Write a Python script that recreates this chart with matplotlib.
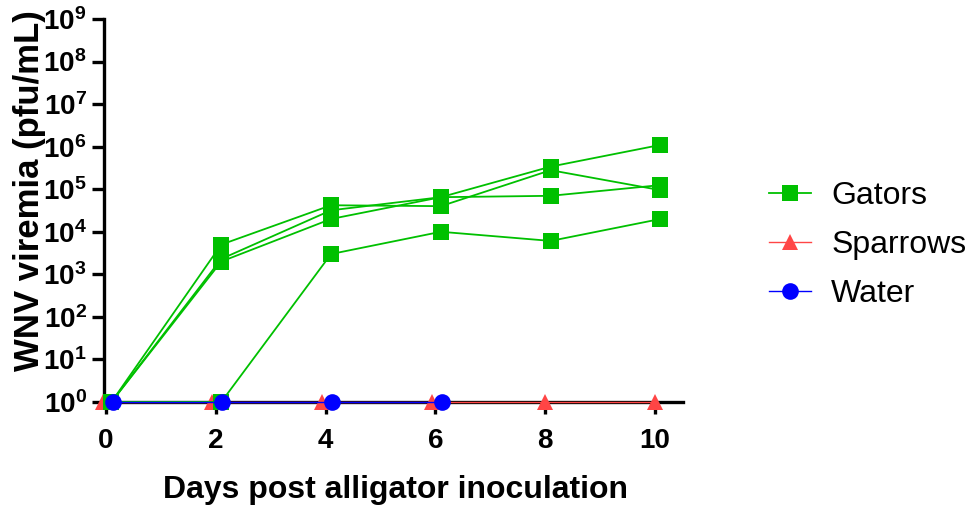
import matplotlib
matplotlib.use("Agg")
import matplotlib.pyplot as plt
from matplotlib.ticker import FixedLocator, FixedFormatter, NullLocator

plt.rcParams['font.family'] = ['Liberation Sans', 'DejaVu Sans']
plt.rcParams['mathtext.fontset'] = 'custom'
plt.rcParams['mathtext.rm'] = 'Liberation Sans'
plt.rcParams['mathtext.bf'] = 'Liberation Sans:bold'

# ---- data ----
gator_days = [0.1, 2.1, 4.1, 6.1, 8.1, 10.1]
gator_1 = [1, 5.0e3, 4.2e4, 4.0e4, 2.8e5, 9.5e4]
gator_2 = [1, 2.3e3, 3.2e4, 6.5e4, 3.4e5, 1.1e6]
gator_3 = [1, 2.0e3, 2.0e4, 6.5e4, 7.0e4, 1.25e5]
gator_4 = [1, 1, 3.0e3, 1.0e4, 6.1e3, 2.0e4]
sparrow_days = [-0.06, 1.94, 3.94, 5.94, 8, 10]
sparrows = [1, 1, 1, 1, 1, 1]
water_days = [0.12, 2.12, 4.12, 6.12]
water = [1, 1, 1, 1]
x_ticks = [0, 2, 4, 6, 8, 10]
y_exponents = [0, 1, 2, 3, 4, 5, 6, 7, 8, 9]

GREEN = '#00C000'
RED = '#FF4545'
BLUE = '#0000FF'

fig = plt.figure(figsize=(9.72, 5.05), dpi=100)
ax = fig.add_axes([104/972, 103/505, (683-104)/972, 383/505])

ax.plot(sparrow_days, sparrows, color=RED, lw=1.0, marker='^', ms=12,
        markeredgewidth=0, clip_on=False, zorder=3, label='Sparrows')
first = True
for g in [gator_1, gator_2, gator_3, gator_4]:
    ax.plot(gator_days, g, color=GREEN, lw=1.3, marker='s', ms=11,
            markeredgewidth=0, clip_on=False, zorder=4,
            label='Gators' if first else None)
    first = False
ax.plot(water_days, water, color=BLUE, lw=1.0, marker='o', ms=12,
        markeredgewidth=0, clip_on=False, zorder=5, label='Water')

ax.set_yscale('log')
ax.set_ylim(1, 1e9)
ax.set_xlim(-0.036, 10.51)
ax.yaxis.set_major_locator(FixedLocator([10.0**e for e in y_exponents]))
ax.yaxis.set_major_formatter(FixedFormatter([r'$\mathbf{10^{%d}}$' % e for e in y_exponents]))
ax.yaxis.set_minor_locator(NullLocator())
ax.set_xticks(x_ticks)
ax.set_xticklabels([str(t) for t in x_ticks], fontweight='bold')

for s in ['top', 'right']:
    ax.spines[s].set_visible(False)
for s in ['left', 'bottom']:
    ax.spines[s].set_linewidth(2.4)
    ax.spines[s].set_zorder(2)
ax.tick_params(axis='both', which='major', length=8.5, width=2.4, labelsize=20)
ax.tick_params(axis='x', pad=10)
ax.tick_params(axis='y', pad=4)

fig.text(30/972, 1-191/505, 'WNV viremia (pfu/mL)', rotation=90, ha='center', va='center',
         fontsize=25, fontweight='bold')
fig.text(395/972, 1-498/505, 'Days post alligator inoculation', ha='center', va='baseline',
         fontsize=23, fontweight='bold')

h, l = ax.get_legend_handles_labels()
order = [l.index('Gators'), l.index('Sparrows'), l.index('Water')]
leg = fig.legend([h[i] for i in order], [l[i] for i in order],
                 loc='center left', bbox_to_anchor=(769/972, 1-245/505),
                 frameon=False, fontsize=23, handlelength=1.3, handletextpad=0.65,
                 labelspacing=0.6, borderaxespad=0, borderpad=0)

fig.savefig('out.png', dpi=100)
